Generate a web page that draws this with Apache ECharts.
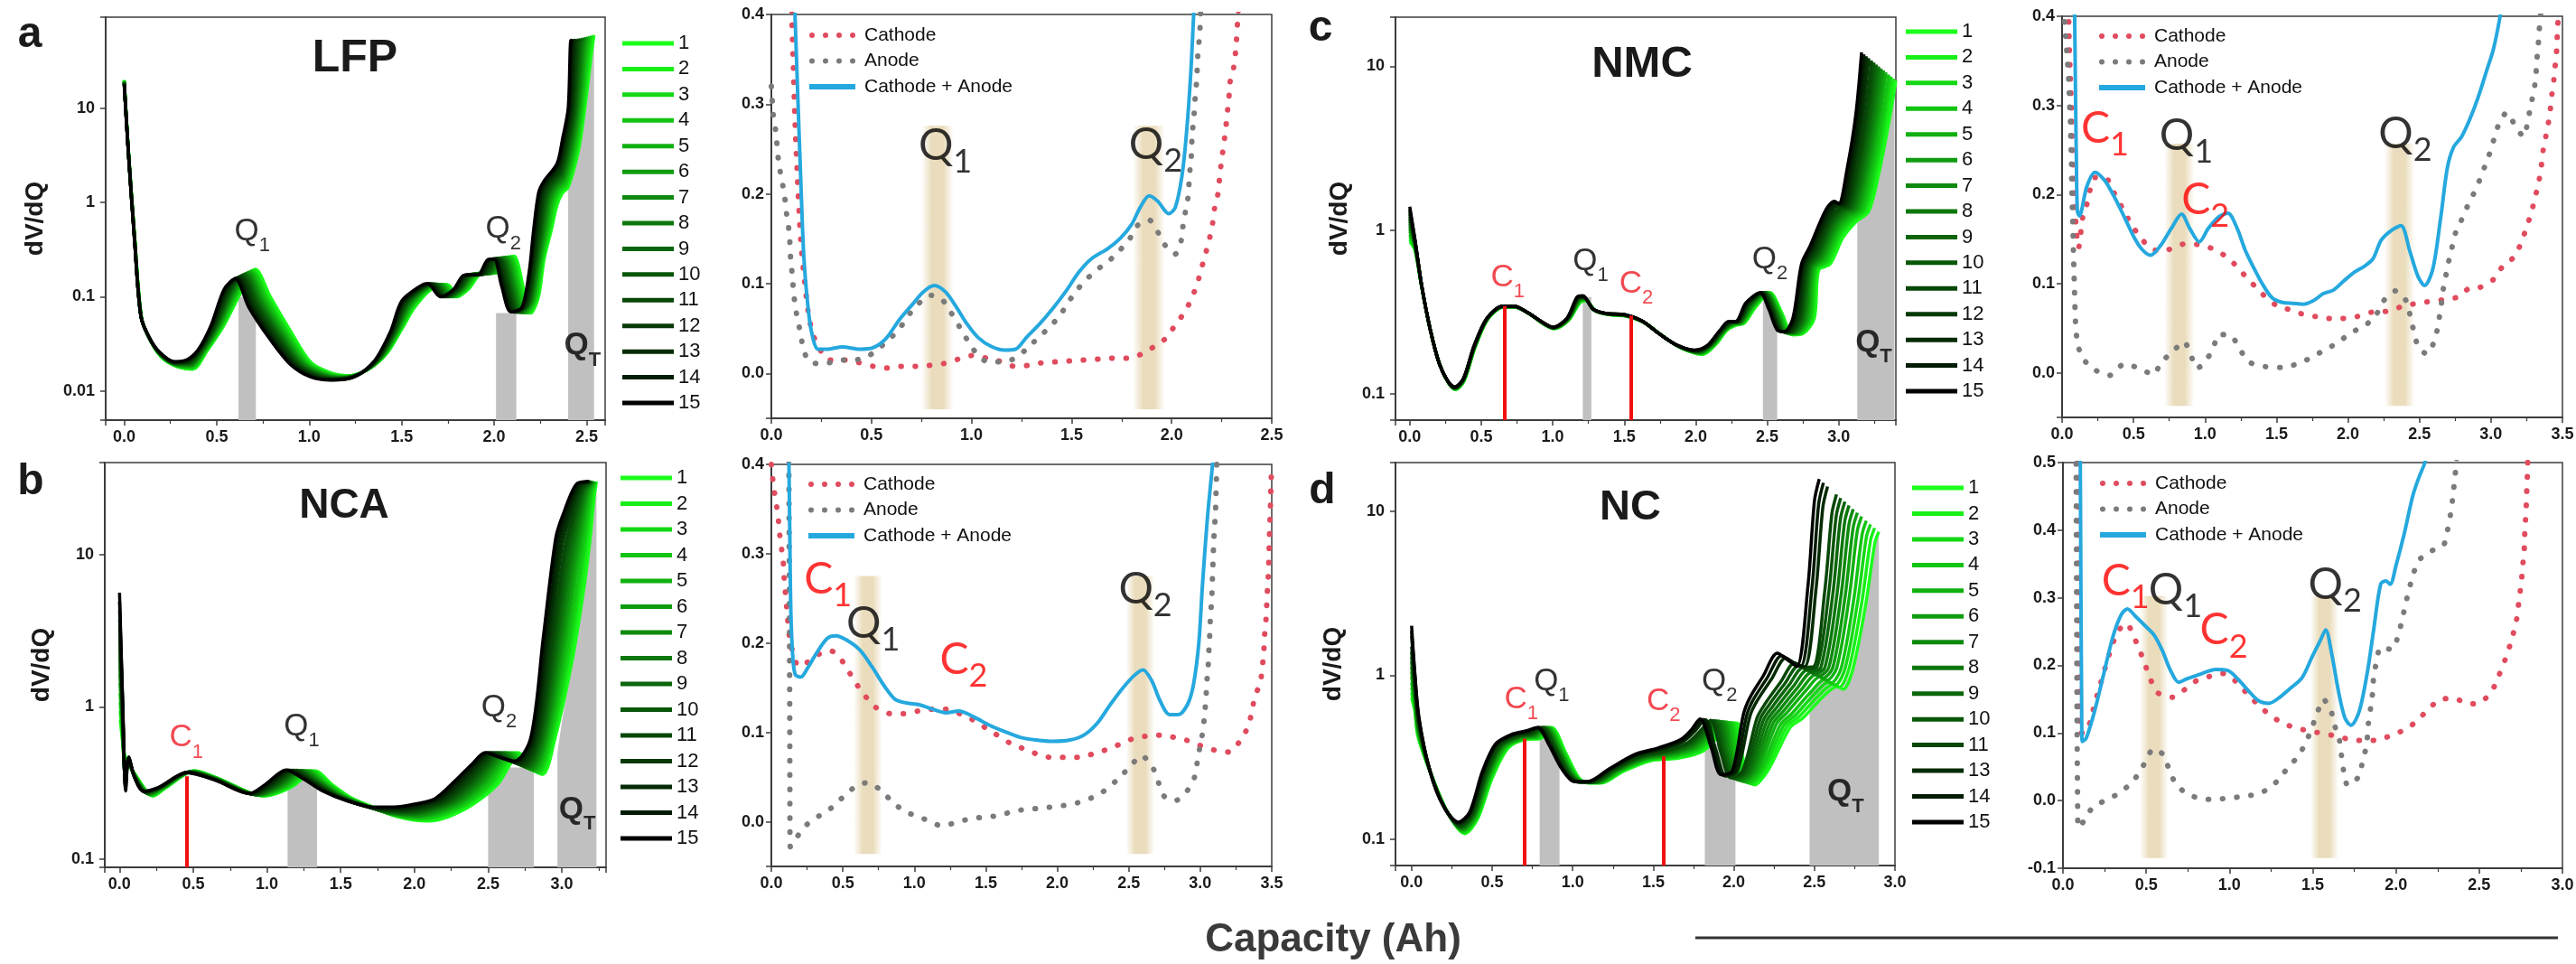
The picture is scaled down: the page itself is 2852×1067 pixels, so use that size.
<!DOCTYPE html>
<html><head><meta charset="utf-8">
<script src="https://cdn.jsdelivr.net/npm/echarts@6/dist/echarts.min.js"></script>
<style>html,body{margin:0;padding:0;background:#fff;overflow:hidden}#c{width:2852px;height:1067px}</style>
</head><body><div id="c"></div>
<script>
// ---------------- DATA ----------------
const cycles = ['1','2','3','4','5','6','7','8','9','10','11','12','13','14','15'];
const cyclesD = ['1','2','3','4','5','6','7','8','9','10','11','13','14','15'];
const cycleColors = ['#1cff1c','#17ef17','#14d814','#12c412','#10b010','#0f9c0f','#0e890e','#0c770c','#0b660b','#095609','#074707','#063906','#042b04','#021b02','#000000'];
// position of each cycle inside the band between cycle 1 (0) and cycle 15 (1)
const cycleWeights = [0,0.07,0.14,0.21,0.29,0.36,0.43,0.5,0.57,0.64,0.71,0.79,0.86,0.93,1];

// panel a (LFP) : cycle 1 and cycle 15 curves [Ah, dV/dQ]
const aFirst = [[0.0,20],[0.022,3.8],[0.058,0.40],[0.095,0.058],[0.15,0.032],[0.21,0.022],[0.29,0.018],[0.37,0.017],[0.45,0.027],[0.54,0.05],[0.63,0.11],[0.71,0.196],[0.79,0.10],[0.90,0.043],[1.01,0.02],[1.12,0.0155],[1.21,0.0145],[1.32,0.017],[1.42,0.025],[1.50,0.045],[1.57,0.077],[1.66,0.12],[1.75,0.134],[1.80,0.10],[1.86,0.12],[1.94,0.18],[2.02,0.18],[2.11,0.27],[2.13,0.22],[2.16,0.12],[2.20,0.067],[2.24,0.10],[2.27,0.25],[2.31,0.52],[2.34,0.94],[2.37,1.27],[2.40,1.45],[2.455,3.5],[2.49,10],[2.53,44],[2.54,60]];
const aLast = [[0.0,18],[0.022,3.5],[0.056,0.39],[0.09,0.062],[0.135,0.037],[0.19,0.026],[0.27,0.0205],[0.337,0.0214],[0.40,0.0275],[0.47,0.05],[0.54,0.12],[0.60,0.155],[0.674,0.077],[0.79,0.035],[0.90,0.019],[1.01,0.014],[1.12,0.013],[1.24,0.014],[1.35,0.0205],[1.44,0.043],[1.50,0.09],[1.60,0.13],[1.64,0.138],[1.71,0.10],[1.78,0.12],[1.84,0.17],[1.91,0.17],[1.97,0.25],[2.00,0.25],[2.04,0.13],[2.09,0.069],[2.15,0.077],[2.19,0.19],[2.21,0.45],[2.24,1.27],[2.27,1.7],[2.34,2.6],[2.37,4.8],[2.40,10],[2.415,53],[2.425,52]];
const aBars = [[0.618,0.712,0.1],[2.01,2.12,0.067]];
const aQT = [[2.40,1.45],[2.43,2.2],[2.455,3.5],[2.49,10],[2.53,44],[2.54,60]];
const aRed = [];
const aLabels = [['Q','1',0.692,0.497],['Q','2',2.05,0.523],['Q','T',2.477,0.0302,'bold']];

// panel b (NCA)
const bFirst = [[0.005,0.82],[0.02,0.6],[0.034,0.49],[0.06,0.42],[0.09,0.38],[0.23,0.26],[0.315,0.295],[0.51,0.38],[0.65,0.345],[0.99,0.26],[1.16,0.295],[1.33,0.38],[1.44,0.31],[1.58,0.25],[1.72,0.22],[1.89,0.19],[2.09,0.178],[2.23,0.19],[2.40,0.23],[2.565,0.31],[2.65,0.42],[2.705,0.50],[2.78,0.41],[2.87,0.36],[2.95,0.6],[3.07,2.0],[3.15,6.0],[3.19,12.2],[3.22,24],[3.235,30]];
const bLast = [[0,5.6],[0.022,1.05],[0.042,0.28],[0.062,0.47],[0.104,0.34],[0.16,0.28],[0.26,0.295],[0.456,0.37],[0.65,0.33],[0.88,0.27],[0.99,0.31],[1.13,0.385],[1.24,0.34],[1.38,0.28],[1.55,0.24],[1.72,0.22],[1.86,0.22],[2.0,0.23],[2.14,0.25],[2.28,0.33],[2.40,0.43],[2.48,0.50],[2.565,0.47],[2.68,0.44],[2.79,0.63],[2.875,2.9],[2.96,13],[3.015,19],[3.1,29],[3.18,30]];
const bBars = [[1.14,1.34,0.33],[2.50,2.81,0.40]];
const bQT = [[2.97,0.5],[3.0,0.79],[3.07,1.98],[3.13,4.9],[3.19,12.2],[3.22,24],[3.235,30]];
const bRed = [[0.456,0.35]];
const bLabels = [['C','1',0.453,0.626,'red'],['Q','1',1.235,0.745],['Q','2',2.574,0.99],['Q','T',3.105,0.212,'bold']];

// panel c (NMC)
const cFirst = [[0,0.85],[0.037,0.75],[0.085,0.44],[0.146,0.24],[0.21,0.15],[0.272,0.116],[0.32,0.106],[0.38,0.12],[0.455,0.19],[0.545,0.285],[0.655,0.338],[0.735,0.338],[0.83,0.31],[0.95,0.262],[1.01,0.25],[1.11,0.28],[1.19,0.36],[1.23,0.37],[1.30,0.32],[1.39,0.305],[1.52,0.297],[1.64,0.272],[1.77,0.225],[1.9,0.19],[2.05,0.174],[2.14,0.2],[2.22,0.245],[2.28,0.262],[2.34,0.27],[2.42,0.34],[2.52,0.414],[2.6,0.315],[2.68,0.229],[2.75,0.233],[2.83,0.29],[2.86,0.57],[2.94,0.62],[3.03,0.9],[3.12,1.12],[3.21,1.3],[3.28,2.2],[3.35,4.5],[3.40,8.2]];
const cLast = [[0,1.39],[0.037,0.87],[0.083,0.46],[0.144,0.245],[0.206,0.153],[0.267,0.119],[0.313,0.11],[0.375,0.124],[0.45,0.197],[0.54,0.29],[0.65,0.343],[0.73,0.343],[0.82,0.315],[0.94,0.27],[1.0,0.255],[1.1,0.29],[1.17,0.39],[1.21,0.397],[1.28,0.33],[1.37,0.31],[1.5,0.305],[1.62,0.28],[1.74,0.234],[1.86,0.2],[1.99,0.185],[2.08,0.197],[2.17,0.245],[2.23,0.277],[2.28,0.277],[2.35,0.358],[2.45,0.414],[2.51,0.33],[2.57,0.245],[2.62,0.24],[2.68,0.29],[2.74,0.62],[2.8,0.8],[2.91,1.33],[2.97,1.5],[3.0,1.45],[3.06,2.4],[3.12,5.1],[3.16,12.2]];
const cBars = [[1.21,1.27,0.39],[2.47,2.57,0.37]];
const cQT = [[3.13,1.1],[3.2,1.27],[3.28,2.2],[3.35,4.5],[3.39,7.9]];
const cRed = [[0.666,0.343],[1.55,0.30]];
const cLabels = [['C','1',0.685,0.512,'red'],['Q','1',1.265,0.647],['C','2',1.584,0.471,'red'],['Q','2',2.518,0.66],['Q','T',3.245,0.206,'bold']];

// panel d (NC)
const dFirst = [[0,0.73],[0.02,0.6],[0.04,0.42],[0.12,0.25],[0.223,0.146],[0.33,0.108],[0.41,0.133],[0.5,0.235],[0.6,0.36],[0.71,0.405],[0.80,0.41],[0.87,0.48],[0.96,0.33],[1.04,0.235],[1.10,0.22],[1.18,0.22],[1.31,0.258],[1.48,0.30],[1.64,0.31],[1.80,0.34],[1.91,0.425],[2.02,0.51],[2.06,0.30],[2.13,0.214],[2.21,0.26],[2.35,0.48],[2.43,0.55],[2.56,0.75],[2.64,0.85],[2.68,0.82],[2.74,1.1],[2.82,2.76],[2.875,6.4],[2.90,7.5]];
const dLast = [[0,2.0],[0.019,1.07],[0.046,0.55],[0.114,0.26],[0.196,0.16],[0.29,0.127],[0.36,0.146],[0.44,0.26],[0.52,0.38],[0.62,0.435],[0.71,0.457],[0.78,0.48],[0.85,0.38],[0.93,0.27],[1.01,0.224],[1.09,0.224],[1.23,0.27],[1.39,0.33],[1.53,0.36],[1.67,0.405],[1.73,0.457],[1.79,0.54],[1.86,0.36],[1.92,0.247],[1.99,0.26],[2.06,0.58],[2.10,0.73],[2.18,0.98],[2.27,1.36],[2.32,1.27],[2.39,1.13],[2.46,3.5],[2.50,11.5],[2.53,15.7]];
const dBars = [[0.795,0.918,0.41],[1.82,2.01,0.38]];
const dQT = [[2.47,0.78],[2.56,0.93],[2.67,0.82],[2.74,1.1],[2.82,2.76],[2.875,6.4],[2.9,7.5]];
const dRed = [[0.70,0.41],[1.565,0.32]];
const dLabels = [['C','1',0.68,0.71,'red'],['Q','1',0.869,0.92],['C','2',1.563,0.694,'red'],['Q','2',1.911,0.92],['Q','T',2.693,0.194,'bold']];

// right-hand panels: Cathode, Anode, Cathode + Anode [Ah, dV/dQ]
const aCathode = [[0.1,0.42],[0.103,0.39],[0.109,0.35],[0.118,0.282],[0.131,0.215],[0.147,0.148],[0.169,0.097],[0.19,0.06],[0.223,0.035],[0.29,0.015],[0.365,0.015],[0.438,0.012],[0.508,0.008],[0.578,0.006],[0.65,0.008],[0.72,0.008],[0.79,0.009],[0.862,0.011],[0.935,0.016],[1.007,0.02],[1.077,0.017],[1.15,0.013],[1.213,0.008],[1.285,0.009],[1.355,0.012],[1.427,0.013],[1.5,0.014],[1.57,0.015],[1.64,0.016],[1.71,0.017],[1.786,0.017],[1.854,0.022],[1.913,0.03],[1.97,0.039],[2.018,0.054],[2.067,0.069],[2.1,0.084],[2.128,0.1],[2.15,0.118],[2.17,0.134],[2.19,0.151],[2.205,0.168],[2.215,0.185],[2.233,0.202],[2.24,0.22],[2.25,0.238],[2.26,0.255],[2.27,0.272],[2.277,0.289],[2.286,0.306],[2.29,0.323],[2.31,0.341],[2.32,0.36],[2.33,0.394],[2.335,0.41]];
const aAnode = [[0,0.32],[0.009,0.29],[0.022,0.27],[0.037,0.234],[0.053,0.215],[0.066,0.198],[0.074,0.181],[0.085,0.165],[0.092,0.148],[0.096,0.129],[0.103,0.113],[0.11,0.094],[0.118,0.077],[0.131,0.06],[0.147,0.044],[0.162,0.025],[0.197,0.012],[0.267,0.011],[0.344,0.015],[0.41,0.015],[0.475,0.018],[0.53,0.027],[0.585,0.037],[0.64,0.05],[0.683,0.064],[0.727,0.076],[0.797,0.087],[0.854,0.082],[0.9,0.067],[0.94,0.052],[0.98,0.037],[1.016,0.025],[1.08,0.013],[1.154,0.013],[1.22,0.017],[1.274,0.027],[1.33,0.039],[1.383,0.05],[1.44,0.064],[1.48,0.078],[1.52,0.091],[1.57,0.104],[1.63,0.116],[1.69,0.126],[1.74,0.137],[1.79,0.15],[1.83,0.165],[1.887,0.171],[1.935,0.156],[1.97,0.142],[2.018,0.133],[2.05,0.15],[2.058,0.168],[2.073,0.185],[2.084,0.2],[2.088,0.22],[2.097,0.237],[2.1,0.255],[2.105,0.272],[2.112,0.289],[2.117,0.306],[2.124,0.324],[2.128,0.341],[2.132,0.36],[2.14,0.377],[2.143,0.394],[2.146,0.41]];
const aSum = [[0.116,0.41],[0.118,0.4],[0.131,0.316],[0.147,0.215],[0.162,0.131],[0.18,0.081],[0.2,0.047],[0.234,0.027],[0.278,0.027],[0.355,0.0296],[0.442,0.027],[0.508,0.0286],[0.573,0.039],[0.64,0.06],[0.705,0.077],[0.76,0.091],[0.814,0.098],[0.869,0.091],[0.924,0.074],[0.978,0.055],[1.033,0.04],[1.099,0.03],[1.165,0.026],[1.22,0.027],[1.274,0.04],[1.34,0.055],[1.405,0.072],[1.47,0.091],[1.537,0.113],[1.6,0.128],[1.68,0.139],[1.745,0.151],[1.8,0.166],[1.843,0.185],[1.887,0.198],[1.93,0.192],[1.985,0.178],[2.018,0.185],[2.05,0.218],[2.073,0.265],[2.095,0.333],[2.11,0.4],[2.113,0.41]];
const aBands = [[0.83,-0.04,0.276],[1.886,-0.04,0.276]];
const aRLabels = [['Q','1',0.869,0.2536],['Q','2',1.92,0.255]];

const bCathode = [[0,0.4],[0.012,0.38],[0.03,0.36],[0.046,0.344],[0.055,0.326],[0.068,0.31],[0.083,0.291],[0.089,0.274],[0.098,0.257],[0.107,0.24],[0.117,0.221],[0.129,0.204],[0.154,0.188],[0.19,0.174],[0.258,0.179],[0.338,0.188],[0.42,0.191],[0.49,0.181],[0.55,0.166],[0.605,0.152],[0.66,0.14],[0.73,0.128],[0.83,0.121],[0.927,0.121],[1.03,0.124],[1.13,0.126],[1.23,0.126],[1.33,0.12],[1.41,0.114],[1.5,0.105],[1.59,0.096],[1.67,0.088],[1.76,0.082],[1.855,0.076],[1.956,0.072],[2.054,0.072],[2.155,0.072],[2.25,0.076],[2.35,0.081],[2.44,0.087],[2.53,0.093],[2.63,0.096],[2.73,0.097],[2.83,0.094],[2.93,0.09],[3.02,0.084],[3.107,0.08],[3.205,0.078],[3.276,0.09],[3.33,0.105],[3.36,0.122],[3.38,0.139],[3.42,0.156],[3.435,0.174],[3.445,0.192],[3.45,0.209],[3.46,0.227],[3.465,0.243],[3.47,0.26],[3.477,0.279],[3.48,0.296],[3.483,0.313],[3.486,0.33],[3.49,0.348],[3.493,0.367],[3.496,0.384],[3.5,0.4]];
const bAnode = [[0.121,0.42],[0.123,0.382],[0.125,0.3],[0.127,0.2],[0.129,0.1],[0.13,0.0],[0.132,-0.028],[0.184,-0.016],[0.25,-0.003],[0.338,0.007],[0.424,0.016],[0.497,0.027],[0.577,0.038],[0.675,0.044],[0.752,0.037],[0.83,0.025],[0.91,0.014],[1.0,0.007],[1.096,0.0015],[1.19,-0.0046],[1.29,-0.001],[1.39,0.0034],[1.486,0.005],[1.587,0.007],[1.68,0.011],[1.78,0.014],[1.885,0.015],[1.98,0.017],[2.08,0.019],[2.18,0.023],[2.27,0.029],[2.35,0.037],[2.425,0.048],[2.5,0.06],[2.59,0.074],[2.67,0.06],[2.71,0.043],[2.75,0.028],[2.83,0.024],[2.91,0.035],[2.96,0.05],[2.98,0.068],[3.0,0.086],[3.02,0.103],[3.03,0.12],[3.04,0.138],[3.045,0.155],[3.055,0.173],[3.06,0.19],[3.066,0.208],[3.07,0.225],[3.077,0.242],[3.083,0.26],[3.086,0.277],[3.09,0.294],[3.094,0.313],[3.1,0.33],[3.107,0.348],[3.11,0.367],[3.113,0.384],[3.116,0.41]];
const bSum = [[0.122,0.41],[0.123,0.4],[0.129,0.321],[0.135,0.245],[0.147,0.192],[0.166,0.165],[0.206,0.162],[0.25,0.171],[0.313,0.188],[0.39,0.205],[0.45,0.208],[0.53,0.203],[0.62,0.192],[0.706,0.173],[0.79,0.152],[0.866,0.137],[0.943,0.133],[1.035,0.131],[1.127,0.126],[1.22,0.122],[1.31,0.124],[1.42,0.117],[1.526,0.108],[1.63,0.101],[1.74,0.0945],[1.85,0.0915],[1.97,0.09],[2.09,0.0915],[2.186,0.097],[2.278,0.11],[2.37,0.131],[2.46,0.15],[2.54,0.164],[2.6,0.17],[2.66,0.158],[2.72,0.135],[2.785,0.12],[2.846,0.12],[2.91,0.131],[2.953,0.154],[2.99,0.2],[3.015,0.264],[3.05,0.34],[3.086,0.4],[3.09,0.41]];
const bBands = [[0.675,-0.036,0.275],[2.58,-0.036,0.275]];
const bRLabels = [['C','1',0.396,0.271,'red'],['Q','1',0.712,0.222],['C','2',1.345,0.181,'red'],['Q','2',2.616,0.26]];

const cCathode = [[0.045,0.41],[0.05,0.368],[0.058,0.331],[0.066,0.294],[0.072,0.257],[0.08,0.219],[0.089,0.189],[0.1,0.159],[0.115,0.14],[0.144,0.174],[0.173,0.189],[0.23,0.219],[0.303,0.219],[0.36,0.203],[0.418,0.186],[0.476,0.169],[0.533,0.155],[0.605,0.142],[0.69,0.136],[0.778,0.14],[0.865,0.145],[0.98,0.143],[1.072,0.138],[1.15,0.13],[1.225,0.119],[1.3,0.105],[1.37,0.094],[1.435,0.083],[1.507,0.075],[1.588,0.071],[1.68,0.066],[1.78,0.063],[1.867,0.061],[1.96,0.061],[2.06,0.063],[2.164,0.068],[2.27,0.069],[2.372,0.074],[2.48,0.078],[2.573,0.08],[2.666,0.082],[2.767,0.085],[2.85,0.095],[2.925,0.096],[3.02,0.105],[3.08,0.119],[3.155,0.129],[3.21,0.145],[3.24,0.159],[3.277,0.177],[3.305,0.194],[3.33,0.211],[3.35,0.228],[3.36,0.245],[3.38,0.262],[3.4,0.279],[3.415,0.295],[3.426,0.312],[3.44,0.329],[3.45,0.346],[3.46,0.363],[3.464,0.38],[3.47,0.397],[3.475,0.41]];
const cAnode = [[0.015,0.41],[0.02,0.388],[0.029,0.371],[0.035,0.355],[0.043,0.338],[0.049,0.321],[0.052,0.304],[0.058,0.285],[0.06,0.27],[0.063,0.252],[0.066,0.235],[0.067,0.218],[0.069,0.2],[0.072,0.184],[0.075,0.167],[0.078,0.149],[0.08,0.132],[0.083,0.115],[0.086,0.098],[0.089,0.081],[0.092,0.064],[0.098,0.047],[0.112,0.03],[0.15,0.015],[0.233,0.003],[0.33,-0.003],[0.435,0.01],[0.54,0.005],[0.64,-0.002],[0.69,0.011],[0.775,0.024],[0.853,0.035],[0.9,0.02],[0.945,0.005],[1.003,0.013],[1.055,0.027],[1.098,0.043],[1.18,0.042],[1.245,0.026],[1.31,0.012],[1.42,0.007],[1.536,0.006],[1.645,0.01],[1.73,0.016],[1.84,0.026],[1.93,0.034],[2.02,0.045],[2.12,0.053],[2.2,0.066],[2.25,0.081],[2.334,0.092],[2.406,0.081],[2.435,0.064],[2.46,0.047],[2.49,0.03],[2.55,0.021],[2.61,0.038],[2.63,0.055],[2.65,0.072],[2.66,0.088],[2.68,0.105],[2.7,0.122],[2.725,0.139],[2.75,0.156],[2.79,0.17],[2.83,0.185],[2.876,0.2],[2.92,0.216],[2.96,0.233],[2.997,0.249],[3.026,0.265],[3.06,0.281],[3.11,0.292],[3.17,0.277],[3.228,0.265],[3.26,0.284],[3.277,0.299],[3.3,0.316],[3.314,0.333],[3.32,0.35],[3.33,0.366],[3.337,0.383],[3.346,0.4],[3.35,0.41]];
const cSum = [[0.086,0.41],[0.088,0.4],[0.095,0.3],[0.1,0.24],[0.107,0.182],[0.121,0.176],[0.173,0.209],[0.23,0.225],[0.297,0.216],[0.36,0.199],[0.432,0.176],[0.504,0.152],[0.562,0.138],[0.62,0.132],[0.69,0.143],[0.764,0.162],[0.836,0.178],[0.893,0.162],[0.96,0.147],[1.023,0.162],[1.095,0.175],[1.16,0.179],[1.225,0.162],[1.28,0.138],[1.34,0.118],[1.4,0.1],[1.47,0.084],[1.54,0.079],[1.614,0.078],[1.686,0.077],[1.758,0.081],[1.83,0.089],[1.9,0.093],[1.97,0.103],[2.046,0.113],[2.118,0.12],[2.175,0.128],[2.233,0.149],[2.305,0.16],[2.37,0.165],[2.435,0.135],[2.49,0.108],[2.536,0.098],[2.594,0.117],[2.65,0.176],[2.695,0.23],[2.738,0.253],[2.795,0.265],[2.853,0.285],[2.91,0.309],[2.968,0.338],[3.017,0.363],[3.063,0.399],[3.07,0.41]];
const cBands = [[0.82,-0.037,0.257],[2.36,-0.037,0.257]];
const cRLabels = [['C','1',0.30,0.274,'red'],['Q','1',0.868,0.266],['C','2',1.003,0.194,'red'],['Q','2',2.40,0.268]];

const dCathode = [[0.088,0.52],[0.09,0.5],[0.092,0.4],[0.094,0.29],[0.098,0.2],[0.103,0.1],[0.133,0.1],[0.165,0.118],[0.19,0.143],[0.214,0.163],[0.24,0.185],[0.27,0.21],[0.3,0.233],[0.338,0.253],[0.382,0.262],[0.43,0.24],[0.466,0.219],[0.498,0.198],[0.53,0.177],[0.572,0.159],[0.658,0.153],[0.73,0.164],[0.806,0.178],[0.885,0.184],[0.966,0.188],[1.035,0.177],[1.1,0.16],[1.163,0.144],[1.235,0.128],[1.31,0.116],[1.39,0.108],[1.48,0.103],[1.565,0.099],[1.65,0.095],[1.73,0.09],[1.817,0.089],[1.9,0.09],[1.984,0.098],[2.063,0.106],[2.13,0.119],[2.194,0.135],[2.27,0.15],[2.35,0.151],[2.44,0.143],[2.514,0.146],[2.58,0.164],[2.618,0.185],[2.655,0.208],[2.685,0.23],[2.71,0.252],[2.73,0.275],[2.74,0.3],[2.753,0.321],[2.76,0.345],[2.77,0.368],[2.773,0.391],[2.778,0.414],[2.783,0.438],[2.786,0.461],[2.79,0.485],[2.792,0.51]];
const dAnode = [[0.078,0.52],[0.079,0.495],[0.082,0.3],[0.085,0.1],[0.088,0.0],[0.091,-0.04],[0.133,-0.028],[0.172,-0.012],[0.25,0.0],[0.32,0.0085],[0.39,0.0215],[0.456,0.04],[0.5,0.06],[0.542,0.0765],[0.6,0.0685],[0.638,0.046],[0.675,0.026],[0.744,0.01],[0.823,0.0035],[0.907,0.0015],[0.996,0.004],[1.08,0.006],[1.168,0.01],[1.242,0.0185],[1.3,0.0325],[1.35,0.0485],[1.41,0.065],[1.46,0.0865],[1.496,0.1085],[1.528,0.13],[1.563,0.15],[1.607,0.135],[1.63,0.1125],[1.66,0.09],[1.673,0.0665],[1.686,0.044],[1.71,0.0225],[1.775,0.035],[1.8,0.0585],[1.824,0.0825],[1.834,0.1135],[1.848,0.1375],[1.86,0.16],[1.866,0.1825],[1.883,0.205],[1.908,0.2265],[1.977,0.2235],[2.014,0.245],[2.038,0.2685],[2.058,0.291],[2.08,0.3135],[2.105,0.336],[2.142,0.3565],[2.21,0.369],[2.285,0.3775],[2.31,0.4],[2.327,0.4225],[2.34,0.446],[2.35,0.469],[2.36,0.4925],[2.365,0.51]];
const dSum = [[0.103,0.51],[0.104,0.5],[0.108,0.3],[0.112,0.15],[0.116,0.0875],[0.14,0.0925],[0.19,0.1325],[0.24,0.1825],[0.3,0.2425],[0.35,0.275],[0.387,0.2835],[0.436,0.2725],[0.498,0.2575],[0.547,0.245],[0.596,0.2225],[0.646,0.1925],[0.695,0.175],[0.744,0.18],[0.818,0.1865],[0.917,0.194],[0.99,0.1925],[1.05,0.18],[1.114,0.1625],[1.176,0.1475],[1.237,0.144],[1.3,0.1525],[1.36,0.165],[1.435,0.1815],[1.496,0.2125],[1.545,0.2365],[1.578,0.2525],[1.612,0.22],[1.656,0.16],[1.693,0.1225],[1.73,0.1115],[1.78,0.1325],[1.83,0.1925],[1.866,0.2525],[1.908,0.32],[1.94,0.325],[1.965,0.32],[2.0,0.3475],[2.05,0.395],[2.1,0.45],[2.137,0.4775],[2.174,0.5],[2.18,0.51]];
const dBands = [[0.547,-0.085,0.3025],[1.57,-0.085,0.3025]];
const dRLabels = [['C','1',0.375,0.324,'red'],['Q','1',0.675,0.3115],['C','2',0.966,0.2515,'red'],['Q','2',1.634,0.319]];

// ---------------- BUILD ----------------
const FONT = '"Liberation Sans", Arial, Helvetica, sans-serif';
const QFONT = 'Lato, "Open Sans", "Liberation Sans", sans-serif';
const INK = '#1a1a1a';
const FRAME = '#3c3c3c';

function blend(first, last, w) {
  return first.map((p, i) => [p[0] * (1 - w) + last[i][0] * w,
    Math.exp(Math.log(p[1]) * (1 - w) + Math.log(last[i][1]) * w)]);
}
const halfFmt = v => { const r = Math.round(v * 2); return (Math.abs(v * 2 - r) < 1e-6 && r >= 0) ? (r / 2).toFixed(1) : ''; };
const tenthFmt = v => { const r = Math.round(v * 10); return Math.abs(v * 10 - r) < 1e-6 ? (r / 10).toFixed(1) : ''; };
const decFmt = v => { const l = Math.log10(v); const r = Math.round(l); return Math.abs(l - r) < 1e-6 ? String(+Math.pow(10, r).toPrecision(3)) : ''; };

const grid = [], xAxis = [], yAxis = [], series = [], legend = [];
const tickLabel = {fontSize: 18, fontWeight: 'bold', fontFamily: FONT, color: INK};

function baseAxis(gi) {
  return {
    gridIndex: gi,
    axisLine: {show: true, onZero: false, lineStyle: {color: FRAME, width: 2}},
    axisTick: {show: true, length: 6, lineStyle: {color: FRAME, width: 1.5}},
    splitLine: {show: false},
    nameMoveOverlap: false
  };
}

function labelItem(l, big) {
  const red = l[4] === 'red';
  const bold = l[4] === 'bold';
  const color = red ? (big ? '#ff0000' : '#ee1c24') : '#000';
  const F = big ? 48 : 35, f = big ? 36 : 22, L = big ? 72 : 54;
  const fam = big ? QFONT : FONT;
  return {
    value: [l[2], l[3]],
    label: {
      show: true, position: 'inside', align: 'center', verticalAlign: 'middle',
      formatter: '{m|' + l[0] + '}{s|' + l[1] + '}',
      rich: {
        m: {fontSize: F, fontFamily: fam, color: color, fontWeight: bold ? 'bold' : 'normal', verticalAlign: 'middle'},
        s: {fontSize: f, fontFamily: fam, color: color, fontWeight: bold ? 'bold' : 'normal', lineHeight: L, verticalAlign: 'bottom'}
      }
    }
  };
}

function addLeft(p) {
  const gi = grid.length;
  grid.push({left: p.box[0], top: p.box[1], width: p.box[2], height: p.box[3], show: true,
    borderColor: FRAME, borderWidth: 1.5, containLabel: false, outerBoundsMode: 'none'});
  xAxis.push(Object.assign(baseAxis(gi), {type: 'value', min: p.x[0], max: p.x[1], splitNumber: 6,
    minorTick: {show: true, splitNumber: 2, length: 4, lineStyle: {color: FRAME, width: 1.2}},
    axisLabel: Object.assign({margin: 10, formatter: halfFmt}, tickLabel)}));
  yAxis.push(Object.assign(baseAxis(gi), {type: 'log', logBase: 10, min: p.y[0], max: p.y[1],
    name: 'dV/dQ', nameLocation: 'middle', nameGap: p.nameGap,
    nameTextStyle: {fontSize: 28, fontWeight: 'bold', fontFamily: FONT, color: INK},
    minorTick: {show: false},
    axisLabel: Object.assign({margin: 12, formatter: decFmt}, tickLabel)}));
  series.push({type: 'line', name: '_qt' + gi, xAxisIndex: gi, yAxisIndex: gi, data: p.qt, symbol: 'none',
    lineStyle: {width: 0}, areaStyle: {color: '#c0c0c0', opacity: 1, origin: 'start'}, silent: true, z: 1,
    markArea: {silent: true, label: {show: false}, itemStyle: {color: '#c0c0c0'},
      data: p.bars.map(b => [{xAxis: b[0], yAxis: p.y[0]}, {xAxis: b[1], yAxis: b[2]}])}});
  p.cycles.forEach(c => {
    const k = +c - 1;
    series.push({type: 'line', name: c, xAxisIndex: gi, yAxisIndex: gi,
      data: blend(p.first, p.last, cycleWeights[k]), symbol: 'none', smooth: 0.3,
      lineStyle: {width: 3.5, color: cycleColors[k]}, itemStyle: {color: cycleColors[k]}, silent: true, z: 2});
  });
  series.push({type: 'scatter', name: '_ann' + gi, xAxisIndex: gi, yAxisIndex: gi, symbolSize: 1,
    itemStyle: {color: 'rgba(0,0,0,0)'}, silent: true, z: 6,
    data: p.labels.map(l => labelItem(l, false)),
    markLine: {silent: true, symbol: ['none', 'none'], label: {show: false},
      lineStyle: {color: '#f01010', width: 4, type: 'solid'},
      data: p.red.map(r => [{coord: [r[0], p.y[0]]}, {coord: [r[0], r[1]]}])}});
  legend.push({left: p.leg[0], top: p.leg[1], orient: 'vertical', padding: 0, icon: 'rect',
    itemWidth: 57, itemHeight: 5, itemGap: p.leg[2], selectedMode: false, data: p.cycles,
    textStyle: {fontSize: 22, lineHeight: 22, fontFamily: FONT, color: '#111'}});
}

const dotStyle = (color) => ({width: 6, color: color, type: [0.5, 15.3], cap: 'round'});
const DOTS_ICON = 'path://M0,3a3,3 0 1,0 6,0a3,3 0 1,0 -6,0zM15,3a3,3 0 1,0 6,0a3,3 0 1,0 -6,0zM30,3a3,3 0 1,0 6,0a3,3 0 1,0 -6,0zM45,3a3,3 0 1,0 6,0a3,3 0 1,0 -6,0z';
const bandColor = {type: 'linear', x: 0, y: 0, x2: 1, y2: 0, colorStops: [
  {offset: 0, color: 'rgba(230,214,176,0)'}, {offset: 0.32, color: 'rgba(230,214,176,0.85)'},
  {offset: 0.68, color: 'rgba(230,214,176,0.85)'}, {offset: 1, color: 'rgba(230,214,176,0)'}]};

function addRight(p) {
  const gi = grid.length;
  grid.push({left: p.box[0], top: p.box[1], width: p.box[2], height: p.box[3], show: true,
    borderColor: FRAME, borderWidth: 1.5, containLabel: false, outerBoundsMode: 'none'});
  xAxis.push(Object.assign(baseAxis(gi), {type: 'value', min: 0, max: p.x[1], interval: 0.5,
    minorTick: {show: true, splitNumber: 2, length: 4, lineStyle: {color: FRAME, width: 1.2}},
    axisLabel: Object.assign({margin: 10, formatter: halfFmt}, tickLabel)}));
  yAxis.push(Object.assign(baseAxis(gi), {type: 'value', min: p.y[0], max: p.y[1], splitNumber: 5,
    axisLabel: Object.assign({margin: 8, formatter: tenthFmt}, tickLabel)}));
  series.push({type: 'line', name: 'Cathode', xAxisIndex: gi, yAxisIndex: gi, data: p.cat, symbol: 'none',
    smooth: 0.25, lineStyle: dotStyle('#e04b5e'), itemStyle: {color: '#e04b5e'}, silent: true, z: 3,
    markArea: {silent: true, label: {show: false}, itemStyle: {color: bandColor},
      data: p.bands.map(b => [{xAxis: b[0] - p.bw / 2, yAxis: b[1]}, {xAxis: b[0] + p.bw / 2, yAxis: b[2]}])}});
  series.push({type: 'line', name: 'Anode', xAxisIndex: gi, yAxisIndex: gi, data: p.an, symbol: 'none',
    smooth: 0.25, lineStyle: dotStyle('#7b7b7b'), itemStyle: {color: '#7b7b7b'}, silent: true, z: 3});
  series.push({type: 'line', name: 'Cathode + Anode', xAxisIndex: gi, yAxisIndex: gi, data: p.sum, symbol: 'none',
    smooth: 0.3, lineStyle: {width: 4, color: '#25a8de'}, itemStyle: {color: '#25a8de'}, silent: true, z: 4});
  series.push({type: 'scatter', name: '_rann' + gi, xAxisIndex: gi, yAxisIndex: gi, symbolSize: 1,
    itemStyle: {color: 'rgba(0,0,0,0)'}, silent: true, z: 6,
    data: p.labels.map(l => labelItem(l, true))});
  legend.push({left: p.leg[0], top: p.leg[1], orient: 'vertical', padding: 0, itemWidth: 51, itemHeight: 6,
    itemGap: 7.5, selectedMode: false,
    textStyle: {fontSize: 21, lineHeight: 21, fontFamily: FONT, color: '#111', padding: [0, 0, 0, 5]},
    data: [
      {name: 'Cathode', icon: DOTS_ICON, itemStyle: {color: '#e04b5e'}},
      {name: 'Anode', icon: DOTS_ICON, itemStyle: {color: '#7b7b7b'}},
      {name: 'Cathode + Anode', icon: 'rect', itemStyle: {color: '#25a8de'}}
    ]});
}

addLeft({box: [117, 19, 553, 446], x: [-0.1, 2.6], y: [0.0049, 93], nameGap: 64, first: aFirst, last: aLast,
  cycles: cycles, bars: aBars, qt: aQT, red: aRed, labels: aLabels, leg: [689, 37, 6.43]});
addRight({box: [854, 16, 554, 447], x: [0, 2.5], y: [-0.05, 0.4], cat: aCathode, an: aAnode, sum: aSum,
  bands: aBands, bw: 0.16, labels: aRLabels, leg: [896, 28.5]});
addLeft({box: [1545, 19, 554, 446], x: [-0.1, 3.4], y: [0.069, 20], nameGap: 48, first: cFirst, last: cLast,
  cycles: cycles, bars: cBars, qt: cQT, red: cRed, labels: cLabels, leg: [2110, 24, 6.43]});
addRight({box: [2283, 18, 554, 444], x: [0, 3.5], y: [-0.05, 0.4], cat: cCathode, an: cAnode, sum: cSum,
  bands: cBands, bw: 0.21, labels: cRLabels, leg: [2324, 29.5]});
addLeft({box: [116, 512, 555, 448], x: [-0.1, 3.3], y: [0.0885, 40], nameGap: 56, first: bFirst, last: bLast,
  cycles: cycles, bars: bBars, qt: bQT, red: bRed, labels: bLabels, leg: [687, 518, 6.5]});
addRight({box: [854, 514, 554, 445], x: [0, 3.5], y: [-0.05, 0.4], cat: bCathode, an: bAnode, sum: bSum,
  bands: bBands, bw: 0.2, labels: bRLabels, leg: [895, 525.5]});
addLeft({box: [1545, 512, 553, 446], x: [-0.1, 3.0], y: [0.069, 19.8], nameGap: 55, first: dFirst, last: dLast,
  cycles: cyclesD, bars: dBars, qt: dQT, red: dRed, labels: dLabels, leg: [2117, 529, 6.46]});
addRight({box: [2284, 512, 553, 449], x: [0, 3.0], y: [-0.1, 0.5], cat: dCathode, an: dAnode, sum: dSum,
  bands: dBands, bw: 0.17, labels: dRLabels, leg: [2325, 524.5]});

function txt(t, x, y, size, color, weight) {
  return {type: 'text', x: x, y: y, silent: true, z: 20,
    style: {text: t, fill: color || INK, fontSize: size, fontWeight: weight || 'bold', fontFamily: FONT,
      align: 'center', verticalAlign: 'middle', textAlign: 'center', textVerticalAlign: 'middle'}};
}
const graphic = [
  txt('a', 33, 39, 48), txt('b', 34, 534, 48), txt('c', 1462, 32, 48), txt('d', 1464, 544, 48),
  txt('LFP', 393, 65, 50), txt('NCA', 381, 560, 46), txt('NMC', 1818, 71, 49), txt('NC', 1805, 562, 47),
  txt('Capacity (Ah)', 1476, 1041, 44, '#3a3a3a'),
  {type: 'line', silent: true, z: 20, shape: {x1: 1877, y1: 1038, x2: 2832, y2: 1038}, style: {stroke: '#333', lineWidth: 3}}
];

const chart = echarts.init(document.getElementById('c'), null, {renderer: 'canvas'});
chart.setOption({
  animation: false,
  backgroundColor: '#ffffff',
  grid: grid, xAxis: xAxis, yAxis: yAxis, series: series, legend: legend, graphic: graphic
});
</script>
</body></html>
